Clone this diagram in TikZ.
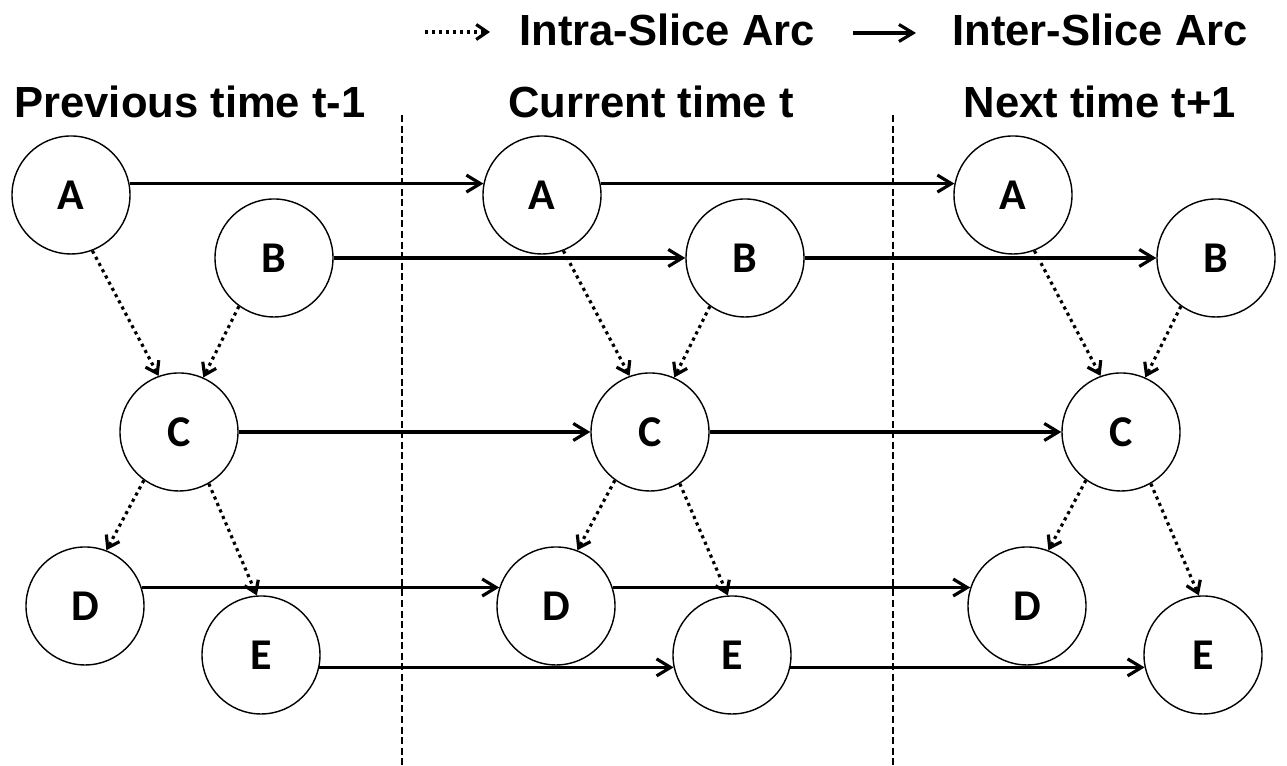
\documentclass[tikz,border=0pt]{standalone}
\usepackage{fontspec}
\setmainfont{Liberation Sans}
\newfontfamily\letterfont{Carlito}
\usetikzlibrary{arrows.meta, positioning, calc}

\tikzset{
  var/.style={draw, circle, line width=0.4pt, minimum size=1.18cm, inner sep=0pt,
    font=\letterfont\bfseries\fontsize{12.5}{14}\selectfont},
  inter/.style={line width=0.9pt, -{Straight Barb[length=1.4mm, width=1.7mm]}},
  intra/.style={line width=0.9pt, dash pattern=on 0.9pt off 1.1pt,
    -{Straight Barb[length=1.1mm, width=1.5mm]}},
  title/.style={font=\bfseries\fontsize{12.4}{14}\selectfont},
  slicesep/.style={line width=0.45pt, dash pattern=on 2pt off 1pt}
}

\begin{document}
\begin{tikzpicture}
  \useasboundingbox (0,0) rectangle (12.87,7.66);
  % legend
  \coordinate (intraS) at (4.25,7.34);
  \coordinate (intraE) at (4.90,7.34);
  \coordinate (interS) at (8.53,7.33);
  \coordinate (interE) at (9.16,7.33);
  \draw[intra] (intraS) -- (intraE);
  \node[title] (intraLbl) at (6.67,7.36) {Intra-Slice Arc};
  \draw[inter] (interS) -- (interE);
  \node[title] (interLbl) at (11.00,7.36) {Inter-Slice Arc};
  % time slices
  \node[title] (prev) at (1.90,6.64) {Previous time t-1};
  \node[title] (curr) at (6.51,6.64) {Current time t};
  \node[title] (next) at (11.00,6.64) {Next time t+1};
  \draw[slicesep] (4.02,6.51) -- (4.02,0);
  \draw[slicesep] (8.93,6.51) -- (8.93,0);
  % one network per slice
  \foreach \s in {0,1,2} {
    \begin{scope}[xshift=\s*4.71cm]
      \node[var] (A\s) at (0.71,5.71) {A};
      \node[var] (B\s) at (2.74,5.08) {B};
      \node[var] (C\s) at (1.79,3.34) {C};
      \node[var] (D\s) at (0.85,1.60) {D};
      \node[var] (E\s) at (2.61,1.11) {E};
    \end{scope}
    \draw[intra] (A\s.-69) -- (C\s.110);
    \draw[intra] (B\s.234) -- (C\s.66);
    \draw[intra] (C\s.234) -- (D\s.69);
    \draw[intra] (C\s.300) -- (E\s.94);
  }
  % arcs between slices
  \foreach \s/\t in {0/1,1/2} {
    \draw[inter] (A\s.11) -- (A\t.169);
    \draw[inter] (B\s) -- (B\t);
    \draw[inter] (C\s) -- (C\t);
    \draw[inter] (D\s.18) -- (D\t.162);
    \draw[inter] (E\s.-12) -- (E\t.192);
  }
\end{tikzpicture}
\end{document}
